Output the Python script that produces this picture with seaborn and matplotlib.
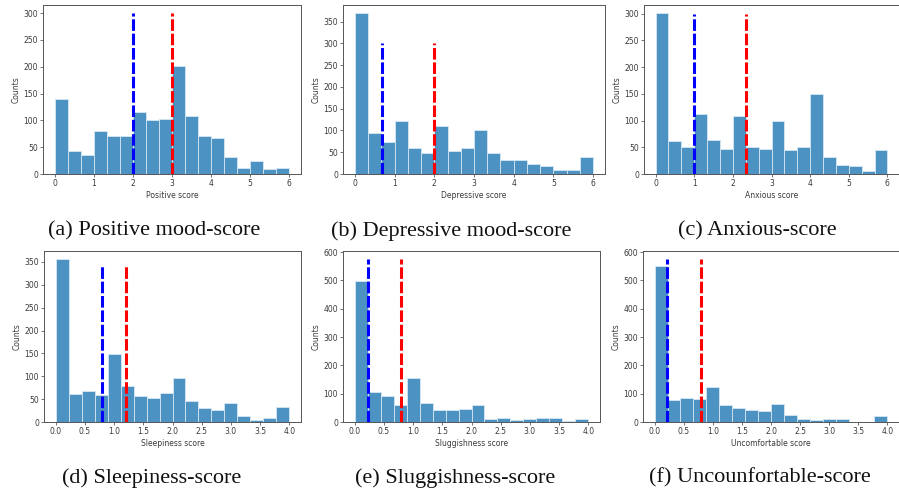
import numpy as np
import pandas as pd
import matplotlib
matplotlib.use("Agg")
import matplotlib.pyplot as plt
import seaborn as sns

# ---- data (bin counts) ----
positive_counts = [140, 42, 36, 80, 70, 71, 116, 100, 103, 202, 109, 70, 68, 31, 12, 25, 9, 12]
depressive_counts = [370, 95, 73, 121, 59, 48, 111, 52, 60, 100, 49, 32, 32, 22, 18, 9, 9, 40]
anxious_counts = [301, 61, 51, 112, 63, 47, 109, 51, 47, 99, 45, 50, 150, 31, 16, 15, 5, 44]
sleepiness_counts = [356, 62, 67, 59, 149, 79, 56, 53, 63, 96, 45, 31, 26, 41, 14, 5, 9, 33]
sluggishness_counts = [498, 106, 93, 60, 155, 68, 42, 42, 46, 59, 12, 15, 7, 9, 15, 15, 4, 11]
uncomfortable_counts = [552, 76, 85, 80, 123, 60, 48, 43, 40, 62, 26, 9, 6, 9, 11, 0, 0, 20]

score_max = [6, 6, 6, 4, 4, 4]
blue_lines = [2.0, 0.67, 1.0, 0.8, 0.22, 0.22]
red_lines = [3.0, 2.0, 2.33, 1.2, 0.8, 0.8]
line_tops = [300, 300, 300, 345, 575, 575]
xlabels = ["Positive score", "Depressive score", "Anxious score",
           "Sleepiness score", "Sluggishness score", "Uncomfortable score"]
captions = ["(a) Positive mood-score", "(b) Depressive mood-score", "(c) Anxious-score",
            "(d) Sleepiness-score", "(e) Sluggishness-score", "(f) Uncounfortable-score"]
all_counts = [positive_counts, depressive_counts, anxious_counts,
              sleepiness_counts, sluggishness_counts, uncomfortable_counts]

W, H = 899, 495
fig = plt.figure(figsize=(W / 100, H / 100), dpi=100)

# axes boxes in pixels: left, top, right, bottom
boxes = [(43, 5, 301, 174), (343, 5, 605, 174), (644, 5, 899, 174),
         (44, 251, 301, 422), (343, 251, 600, 422), (643, 251, 899, 422)]
caption_pos = [(154, 231), (451, 231), (757, 231), (152, 478), (455, 478), (760, 478)]

text_color = "#3a3a3a"
for i in range(6):
    l, t, r, b = boxes[i]
    ax = fig.add_axes([l / W, 1 - b / H, (r - l) / W, (b - t) / H])
    counts = np.array(all_counts[i], dtype=float)
    n = len(counts)
    edges = np.linspace(0, score_max[i], n + 1)
    centers = (edges[:-1] + edges[1:]) / 2
    df = pd.DataFrame({"score": centers, "count": counts})
    sns.histplot(data=df, x="score", weights="count", bins=list(edges), ax=ax,
                 color="#1f77b4", alpha=0.8, edgecolor="#d6e6f2", linewidth=0.6)
    ax.vlines(blue_lines[i], 0, line_tops[i], colors="#0000ff", linestyles=(0, (3.8, 0.9)), linewidth=2.2)
    ax.vlines(red_lines[i], 0, line_tops[i], colors="#ff0000", linestyles=(0, (3.8, 0.9)), linewidth=2.2)
    ax.set_ylabel("Counts", fontsize=5.5, color=text_color, labelpad=2)
    ax.set_xlabel(xlabels[i], fontsize=5.5, color=text_color, labelpad=2.5)
    ax.tick_params(labelsize=5.5, colors=text_color, length=2, width=0.5, pad=1.5)
    for s in ax.spines.values():
        s.set_color("#555555")
        s.set_linewidth(0.7)
    cx, cy = caption_pos[i]
    fig.text(cx / W, 1 - cy / H, captions[i], ha="center", va="center",
             fontsize=16, family="Liberation Serif", color="#111111")

fig.savefig("out.png", dpi=100)
